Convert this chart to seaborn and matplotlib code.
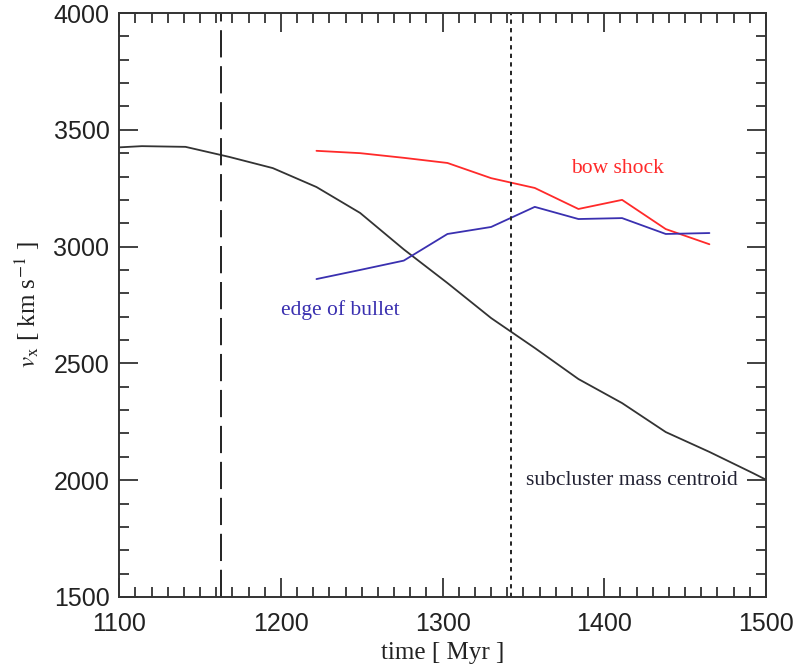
import numpy as np
import pandas as pd
import matplotlib
matplotlib.use("Agg")
import matplotlib.pyplot as plt
from matplotlib.ticker import MultipleLocator
import seaborn as sns

# Subcluster mass centroid velocity
t_centroid = [1087, 1114, 1141, 1168, 1195, 1222, 1249, 1276, 1303, 1330,
              1357, 1384, 1411, 1438, 1465, 1492, 1519]
v_centroid = [3420, 3430, 3427, 3384, 3336, 3255, 3144, 2988, 2844, 2694,
              2566, 2433, 2330, 2206, 2121, 2030, 1935]

# Bow shock and edge of bullet velocities
t_front = [1222, 1249, 1276, 1303, 1330, 1357, 1384, 1411, 1438, 1465]
v_shock = [3410, 3400, 3380, 3358, 3293, 3251, 3161, 3200, 3075, 3010]
v_bullet = [2861, 2900, 2940, 3054, 3084, 3170, 3118, 3122, 3054, 3058]

# Reference epochs
t_dashed = 1163
t_dotted = 1342

sns.set_style("ticks")
plt.rcParams["font.family"] = ["Liberation Sans", "DejaVu Sans"]
plt.rcParams["mathtext.fontset"] = "stix"

df_c = pd.DataFrame({"time": t_centroid, "v": v_centroid})
df_s = pd.DataFrame({"time": t_front, "v": v_shock})
df_b = pd.DataFrame({"time": t_front, "v": v_bullet})

fig = plt.figure(figsize=(8.0, 6.67), dpi=100)
ax = fig.add_axes([0.149, 0.105, 0.8085, 0.8755])

sns.lineplot(data=df_c, x="time", y="v", ax=ax, color="#333333", lw=1.3)
sns.lineplot(data=df_s, x="time", y="v", ax=ax, color="#ff2a2a", lw=1.3)
sns.lineplot(data=df_b, x="time", y="v", ax=ax, color="#3a30b0", lw=1.3)

ax.axvline(t_dashed, color="#222222", lw=1.4, dashes=(14, 4.5))
ax.axvline(t_dotted, color="#222222", lw=1.4, dashes=(2.2, 2.2))

serif = ["Liberation Serif", "DejaVu Serif"]
ax.text(1408, 3336, "bow shock", color="#ff2a2a", fontsize=15.5,
        family=serif, ha="center", va="center")
ax.text(1237, 2729, "edge of bullet", color="#3a30b0", fontsize=15.5,
        family=serif, ha="center", va="center")
ax.text(1417, 1997, "subcluster mass centroid", color="#222233",
        fontsize=15.5, family=serif, ha="center", va="center")

ax.set_xlim(1100, 1500)
ax.set_ylim(1500, 4000)
ax.xaxis.set_major_locator(MultipleLocator(100))
ax.xaxis.set_minor_locator(MultipleLocator(10))
ax.yaxis.set_major_locator(MultipleLocator(500))
ax.yaxis.set_minor_locator(MultipleLocator(100))

ax.tick_params(which="both", direction="in", top=True, right=True,
               color="#333333", width=1.3)
ax.tick_params(which="major", length=14, labelsize=18,
               labelcolor="#222222")
ax.tick_params(axis="x", which="major", pad=11)
ax.tick_params(axis="y", which="major", pad=7)
ax.tick_params(which="minor", length=7)
for s in ax.spines.values():
    s.set_color("#333333")
    s.set_linewidth(1.4)

ax.set_xlabel("time [ Myr ]", fontsize=18, family=serif, color="#222222",
              labelpad=4)
ax.set_ylabel(r"$v_{\rm x}$ [ km s$^{-1}$ ]", fontsize=18, family=serif,
              color="#222222", labelpad=8)

fig.savefig("out.png", dpi=100)
